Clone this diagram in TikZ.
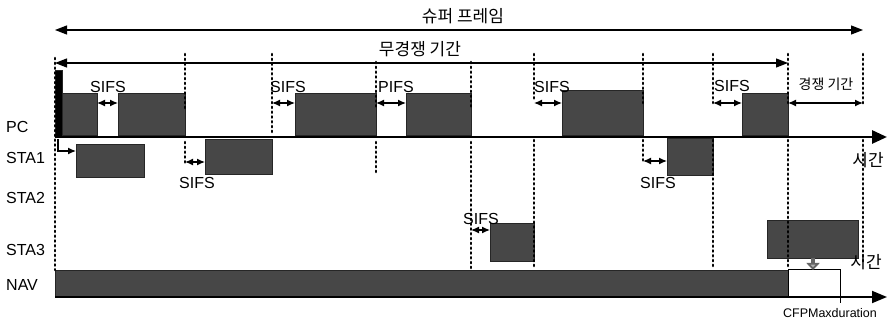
\documentclass[tikz,border=0pt]{standalone}
\usepackage{fontspec}
\setmainfont{Liberation Sans}
\newfontfamily\kr{Noto Sans CJK KR}
\usetikzlibrary{arrows.meta}

\tikzset{
  frame/.style={fill=black!72, draw=black!85, inner sep=0pt, outer sep=0pt, anchor=north west},
  dots/.style={line width=2.6pt, line cap=round, dash pattern=on 1.2pt off 3.6pt},
  gap/.style={line width=1.2pt, {Latex[length=8pt,width=7pt]}-{Latex[length=8pt,width=7pt]}},
  span/.style={line width=1.2pt, {Triangle[length=12pt,width=9pt]}-{Triangle[length=12pt,width=9pt]}},
  lbl/.style={font=\fontsize{16}{18}\selectfont, inner sep=0pt},
  klbl/.style={font=\kr\fontsize{17}{19}\selectfont, inner sep=0pt}
}

\begin{document}
\begin{tikzpicture}[x=1pt, y=-1pt]
  \useasboundingbox (0,0) rectangle (887,320);

  % station names
  \node[lbl, anchor=west] (pc) at (6,127) {PC};
  \node[lbl, anchor=west] (sta1) at (6,158) {STA1};
  \node[lbl, anchor=west] (sta2) at (6,198) {STA2};
  \node[lbl, anchor=west] (sta3) at (6,250) {STA3};
  \node[lbl, anchor=west] (nav) at (6,285) {NAV};

  % superframe and contention free period
  \coordinate (sfL) at (55,30);
  \coordinate (sfR) at (863,30);
  \coordinate (cfR) at (788,63);
  \draw[span] (sfL) -- (sfR);
  \node[klbl] (sf) at (463,16) {슈퍼 프레임};
  \draw[span] (55,63) -- (cfR);
  \node[klbl] (cf) at (420,49) {무경쟁 기간};

  % PC frames
  \node[frame, fill=black, minimum width=7pt, minimum height=67pt] (bcn) at (55,70) {};
  \node[frame, minimum width=35pt, minimum height=42pt] (pcA) at (62,93) {};
  \node[frame, minimum width=67pt, minimum height=42pt] (pcB) at (118,93) {};
  \node[frame, minimum width=81pt, minimum height=42pt] (pcC) at (295,93) {};
  \node[frame, minimum width=65pt, minimum height=42pt] (pcD) at (406,93) {};
  \node[frame, minimum width=81pt, minimum height=45pt] (pcE) at (562,90) {};
  \node[frame, minimum width=46pt, minimum height=42pt] (pcF) at (742,93) {};

  % STA frames
  \node[frame, minimum width=68pt, minimum height=33pt] (s1A) at (76,144) {};
  \node[frame, minimum width=67pt, minimum height=35pt] (s1B) at (205,139) {};
  \node[frame, minimum width=46pt, minimum height=37pt] (s1C) at (667,138) {};
  \node[frame, minimum width=44pt, minimum height=38pt] (s3A) at (490,223) {};
  \node[frame, minimum width=91pt, minimum height=38pt] (s3B) at (767,220) {};

  % NAV
  \node[frame, minimum width=733pt, minimum height=27pt] (navbar) at (55,270) {};
  \node[frame, fill=white, draw=black, line width=1pt, minimum width=52pt, minimum height=27pt] (navend) at (788,270) {};

  % dotted markers
  \foreach \x/\a/\b in {55/58/270, 185/54/108, 185/142/165, 272/54/132,
      376/62/108, 376/142/175, 471/62/108, 471/142/268, 534/54/100, 534/140/268,
      643/54/103, 643/140/163, 713/54/103, 713/140/268, 788/54/103, 788/140/268,
      863/54/105, 863/140/262}
    \draw[dots] (\x,\a) -- (\x,\b);

  % time axes
  \draw[line width=2.8pt, -{Triangle[length=15pt,width=13pt]}] (55,137) -- (887,137);
  \node[klbl] (t1) at (868,160) {시간};
  \draw[line width=1.8pt, -{Triangle[length=15pt,width=12pt]}] (55,297) -- (887,297);
  \node[klbl] (t2) at (866,262) {시간};
  \draw[line width=1pt] (navend.south east) -- ++(0,6);
  \node[lbl, font=\fontsize{12.5}{14}\selectfont] (cfpmax) at (830,313) {CFPMaxduration};

  % interframe spaces on PC
  \draw[gap] ([yshift=-10pt]pcA.north east) -- ([yshift=-10pt]pcB.north west);
  \node[lbl] at (108,87) {SIFS};
  \draw[gap] (272,103) -- ([yshift=-10pt]pcC.north west);
  \node[lbl] at (288,87) {SIFS};
  \draw[gap] ([yshift=-10pt]pcC.north east) -- ([yshift=-10pt]pcD.north west);
  \node[lbl] at (396,87) {PIFS};
  \draw[gap] (534,103) -- ([yshift=-13pt]pcE.north west);
  \node[lbl] at (552,87) {SIFS};
  \draw[gap] (713,103) -- ([yshift=-10pt]pcF.north west);
  \node[lbl] at (732,86) {SIFS};
  \coordinate (cpR) at (863,103);
  \draw[gap] ([yshift=-10pt]pcF.north east) -- (cpR);
  \node[klbl, font=\kr\fontsize{14}{16}\selectfont] (cp) at (826,84) {경쟁 기간};

  % interframe spaces on STA1 and STA3
  \draw[line width=1.2pt, -{Latex[length=8pt,width=7pt]}] (58,139) |- (s1A.west |- 0,151);
  \draw[gap] (185,162) -- (s1B.west |- 0,162);
  \node[lbl] at (197,183) {SIFS};
  \draw[gap] (643,161) -- (s1C.west |- 0,161);
  \node[lbl] at (658,183) {SIFS};
  \draw[gap] (471,230) -- (s3A.west |- 0,230);
  \node[lbl] at (481,219) {SIFS};

  % NAV reset
  \draw[line width=4pt, draw=black!60, -{Triangle[length=7pt,width=13pt,fill=black!30]}] (s3B.south -| 813,0) -- (navend.north -| 813,0);
\end{tikzpicture}
\end{document}
